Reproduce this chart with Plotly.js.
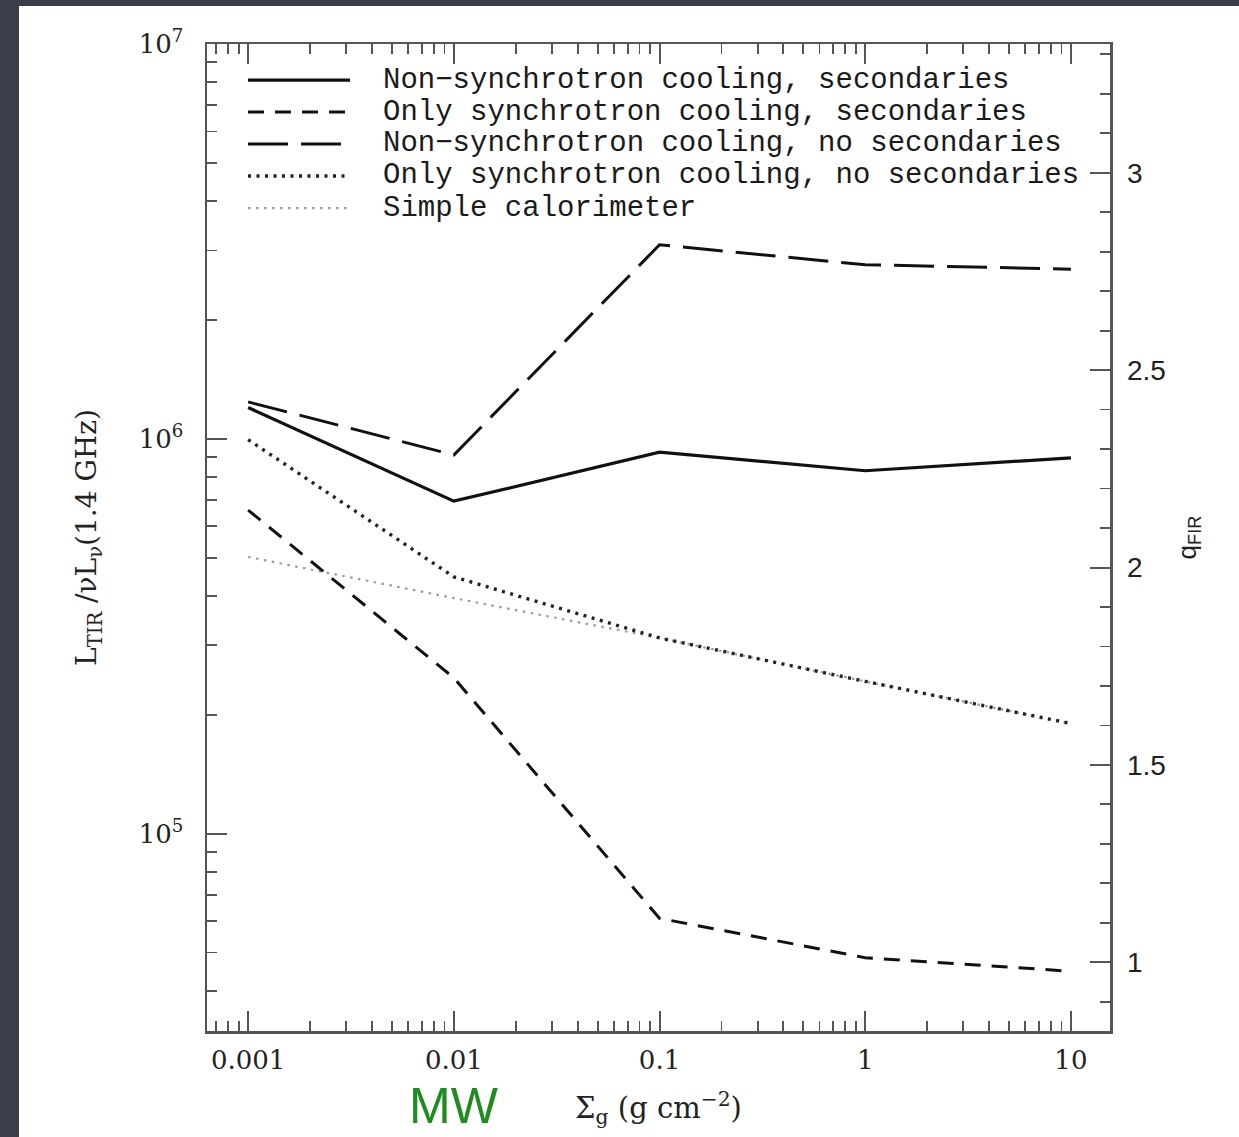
<!DOCTYPE html>
<html><head><meta charset="utf-8">
<script src="https://cdn.plot.ly/plotly-3.0.1.min.js"></script>
<style>
html,body{margin:0;padding:0;background:#3a3e49;width:1239px;height:1137px;overflow:hidden}
#chart{position:absolute;left:19px;top:6px;width:1220px;height:1131px;background:#fff}
</style>
</head><body><div id="chart"></div>
<script>
// ---- data ----
const sigma = [0.001, 0.01, 0.1, 1, 10];
const nonSyncSec   = [1.20e6, 6.95e5, 9.25e5, 8.30e5, 8.95e5];
const onlySyncSec  = [6.60e5, 2.48e5, 6.10e4, 4.85e4, 4.48e4];
const nonSyncNoSec = [1.24e6, 9.10e5, 3.10e6, 2.76e6, 2.69e6];
const onlySyncNoSec= [9.95e5, 4.47e5, 3.13e5, 2.43e5, 1.90e5];
const calorimeter  = [5.02e5, 3.95e5, 3.13e5, 2.43e5, 1.90e5];
const seriesNames = [
  'Non\u2212synchrotron cooling, secondaries',
  'Only synchrotron cooling, secondaries',
  'Non\u2212synchrotron cooling, no secondaries',
  'Only synchrotron cooling, no secondaries',
  'Simple calorimeter'
];
const xTickVals = [0.001, 0.01, 0.1, 1, 10];
const xTickText = ['0.001', '0.01', '0.1', '1', '10'];
const yTickVals = [1e5, 1e6, 1e7];
const yTickText = ['10<sup>5</sup>', '10<sup>6</sup>', '10<sup>7</sup>'];
const qTickVals = [1, 1.5, 2, 2.5, 3];
const qTickText = ['1', '1.5', '2', '2.5', '3'];

// ---- styles ----
const styles = [
  {color:'#111', width:3.2, dash:'solid'},
  {color:'#111', width:3, dash:'16px,11px'},
  {color:'#111', width:3, dash:'40px,13px'},
  {color:'#222', width:3.4, dash:'3px,5.5px'},
  {color:'#9a9a9a', width:2.2, dash:'2.5px,5.5px'}
];
const seriesData = [nonSyncSec, onlySyncSec, nonSyncNoSec, onlySyncNoSec, calorimeter];
const drawOrder = [4, 3, 1, 2, 0];
const traces = drawOrder.map(i => ({
  x: sigma, y: seriesData[i], type:'scatter', mode:'lines', name: seriesNames[i],
  line: {color: styles[i].color, width: styles[i].width, dash: styles[i].dash},
  hoverinfo:'skip', showlegend:false
}));
// empty trace so the q_FIR axis is created
traces.push({x:[], y:[], type:'scatter', mode:'lines', yaxis:'y2', showlegend:false, hoverinfo:'skip'});

// minor ticks
const xMinor = [], yMinor = [];
for (let e = -4; e <= 1; e++) for (let d = 2; d <= 9; d++) xMinor.push(d * Math.pow(10, e));
for (let e = 4; e <= 6; e++) for (let d = 2; d <= 9; d++) yMinor.push(d * Math.pow(10, e));

const qOffset = 3.674; // q_FIR = log10(L_TIR/nuL_nu) - offset
const yRange = [4.5, 7];

// custom legend
const legY = [0.9635, 0.9311, 0.8987, 0.8663, 0.8338];
const shapes = [], annotations = [];
seriesNames.forEach((n, i) => {
  shapes.push({type:'line', xref:'paper', yref:'paper', x0:0.0454, x1:0.1584, y0:legY[i], y1:legY[i],
    line:{color:styles[i].color, width:styles[i].width, dash:styles[i].dash}});
  annotations.push({xref:'paper', yref:'paper', x:0.1927, y:legY[i], xanchor:'left', yanchor:'middle',
    text:n, showarrow:false, font:{family:'Liberation Mono', size:29, color:'#1a1a1a'}});
});
annotations.push({xref:'x', yref:'paper', x:-2, y:-0.0755, xanchor:'center', yanchor:'middle',
  text:'MW', showarrow:false, font:{family:'Liberation Sans', size:50, color:'rgb(30,140,30)'}});

const axCol = '#555';
const layout = {
  width:1220, height:1131,
  margin:{l:188, r:129, t:38, b:106},
  paper_bgcolor:'#fff', plot_bgcolor:'#fff',
  showlegend:false,
  xaxis:{type:'log', range:[-3.2, 1.19], tickmode:'array', tickvals:xTickVals, ticktext:xTickText,
    ticks:'inside', ticklen:20, tickwidth:2, tickcolor:axCol,
    minor:{tickmode:'array', tickvals:xMinor, ticks:'inside', ticklen:10, tickwidth:1.8, tickcolor:axCol, showgrid:false},
    showline:true, linewidth:2.5, linecolor:axCol, mirror:'ticks', showgrid:false, zeroline:false,
    tickfont:{family:'DejaVu Serif', size:26, color:'#222'}, ticklabelstandoff:4,
    title:{text:'\u03a3<sub>g</sub> (g cm<sup>\u22122</sup>)', font:{family:'DejaVu Serif', size:29, color:'#222'}, standoff:24}
  },
  yaxis:{type:'log', range:yRange, tickmode:'array', tickvals:yTickVals, ticktext:yTickText,
    ticks:'inside', ticklen:20, tickwidth:2, tickcolor:axCol,
    minor:{tickmode:'array', tickvals:yMinor, ticks:'inside', ticklen:10, tickwidth:1.8, tickcolor:axCol, showgrid:false},
    showline:true, linewidth:2.5, linecolor:axCol, mirror:true, showgrid:false, zeroline:false,
    tickfont:{family:'DejaVu Serif', size:26, color:'#222'}, ticklabelstandoff:16,
    title:{text:'L<sub>TIR</sub> /\u03bdL<sub>\u03bd</sub>(1.4 GHz)', font:{family:'DejaVu Serif', size:28, color:'#222'}, standoff:34}
  },
  yaxis2:{overlaying:'y', side:'right', range:[yRange[0]-qOffset, yRange[1]-qOffset],
    tickmode:'array', tickvals:qTickVals, ticktext:qTickText,
    ticks:'inside', ticklen:20, tickwidth:2, tickcolor:axCol,
    minor:{dtick:0.1, ticks:'inside', ticklen:10, tickwidth:1.8, tickcolor:axCol, showgrid:false},
    showline:false, showgrid:false, zeroline:false,
    tickfont:{family:'Liberation Sans', size:28, color:'#222'}, ticklabelstandoff:16,
    title:{text:'q<sub>FIR</sub>', font:{family:'Liberation Sans', size:26, color:'#222'}, standoff:12}
  },
  shapes:shapes, annotations:annotations
};
Plotly.newPlot('chart', traces, layout, {staticPlot:true, displayModeBar:false});
</script>
</body></html>
